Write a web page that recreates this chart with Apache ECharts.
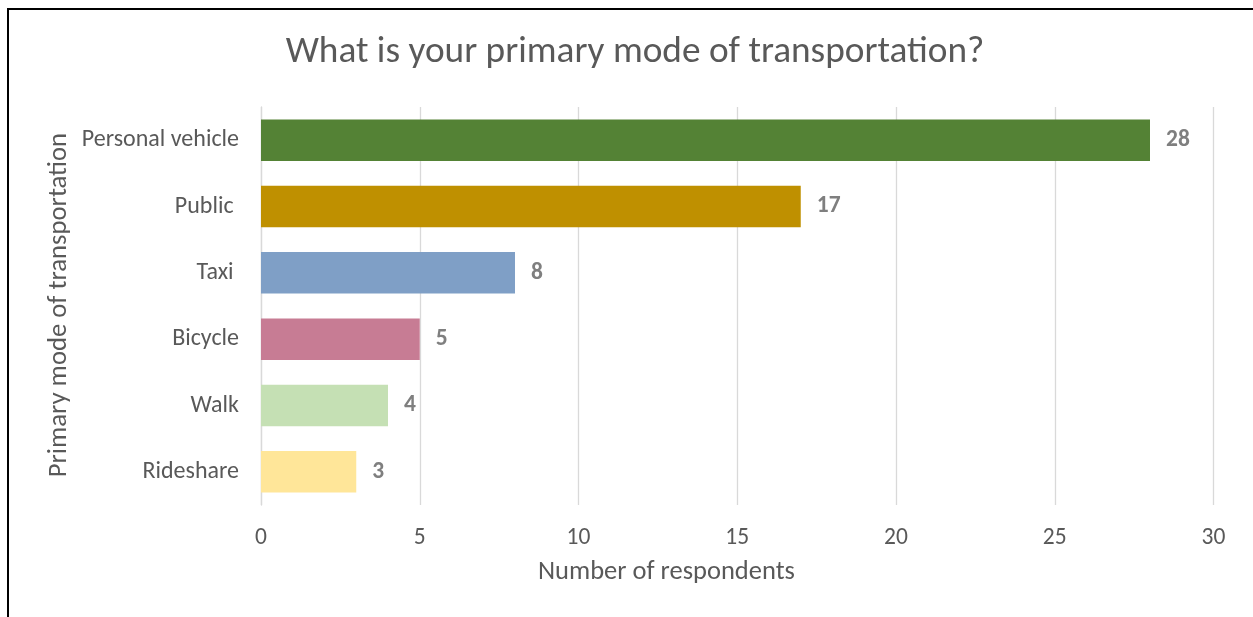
<!DOCTYPE html>
<html><head><meta charset="utf-8">
<script src="https://cdn.jsdelivr.net/npm/echarts@6/dist/echarts.min.js"></script>
<style>
html,body{margin:0;padding:0;background:#fff;}
#frame{position:absolute;left:7px;top:8px;width:1260px;height:620px;border-left:2px solid #000;border-top:2px solid #000;}
#c{position:absolute;left:0;top:0;width:1253px;height:617px;}
</style></head>
<body>
<div id="frame"></div>
<div id="c"></div>
<script>
const categories = ["Personal vehicle", "Public ", "Taxi ", "Bicycle", "Walk", "Rideshare"];
const values = [28, 17, 8, 5, 4, 3];
const barColors = ["#548235", "#BF9000", "#7F9FC6", "#C77C94", "#C5E0B4", "#FFE699"];
const xTicks = [0, 5, 10, 15, 20, 25, 30];

const FONT = "Carlito, Lato, 'Open Sans', sans-serif";
const chart = echarts.init(document.getElementById('c'));
chart.setOption({
  animation: false,
  textStyle: {fontFamily: FONT},
  title: {
    text: "What is your primary mode of transportation?",
    left: 630, top: 29, textAlign: 'center',
    textStyle: {fontFamily: FONT, fontSize: 37.3, fontWeight: 'normal', color: '#595959'}
  },
  graphic: [
    {type: 'text', left: 538, top: 559, style: {text: "Number of respondents", fontFamily: FONT, fontSize: 26.5, fill: '#595959'}},
    {type: 'text', rotation: Math.PI/2, left: 46, top: 133, style: {text: "Primary mode of transportation", fontFamily: FONT, fontSize: 26.7, fill: '#595959'}}
  ],
  grid: {left: 261, right: 39.5, top: 107, bottom: 112, containLabel: false},
  xAxis: {
    type: 'value', min: xTicks[0], max: xTicks[xTicks.length-1], interval: 5,
    axisLine: {show: false}, axisTick: {show: false},
    splitLine: {lineStyle: {color: '#D9D9D9', width: 1.3}},
    axisLabel: {fontFamily: FONT, fontSize: 23.5, color: '#595959', margin: 21}
  },
  yAxis: {
    type: 'category', data: categories, inverse: true,
    axisLine: {lineStyle: {color: '#D9D9D9', width: 1.3}}, axisTick: {show: false},
    axisLabel: {fontFamily: FONT, fontSize: 24, color: '#595959', margin: 22}
  },
  series: [{
    type: 'bar', barCategoryGap: '37.5%',
    data: values.map((v, i) => ({value: v, itemStyle: {color: barColors[i]}})),
    label: {show: true, position: 'right', distance: 16, fontFamily: FONT, fontSize: 23.5, fontWeight: 'bold', color: '#7F7F7F'}
  }]
});
</script>
</body></html>
